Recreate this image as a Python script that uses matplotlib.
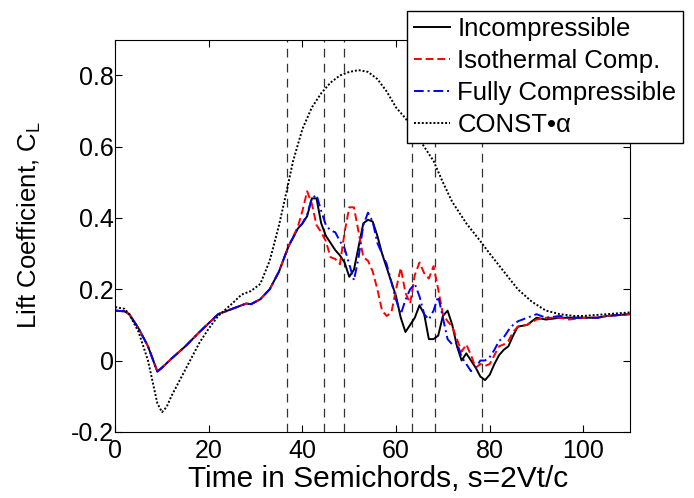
import matplotlib
matplotlib.use('Agg')
import matplotlib.pyplot as plt

plt.rcParams['font.family'] = ['Liberation Sans', 'DejaVu Sans']

# Time in semichords (common grid for the three simulations)
s = [0, 2, 3, 5, 7, 9, 10, 12, 15, 18, 20, 22, 25, 28, 29, 30, 31, 33, 35, 37,
     39, 40, 41, 42, 43, 44, 45, 46, 47, 48, 49, 50, 51, 52, 53, 54, 55, 56, 57,
     58, 59, 60, 61, 62, 63, 64, 65, 66, 67, 68, 69, 70, 71, 72, 73, 74, 75, 76,
     77, 78, 79, 80, 81, 82, 83, 84, 85, 86, 88, 90, 92, 95, 97, 100, 103, 105, 110]

# common start (0..37)
cl_start = [0.14, 0.138, 0.13, 0.09, 0.04, -0.031, -0.02, 0.005, 0.04, 0.08, 0.105,
            0.13, 0.145, 0.16, 0.158, 0.165, 0.172, 0.2, 0.25, 0.32]

cl_incomp = cl_start + [
    0.37, 0.385, 0.405, 0.455, 0.455, 0.385, 0.35, 0.33, 0.31, 0.295, 0.275, 0.235,
    0.255, 0.32, 0.385, 0.395, 0.39, 0.35, 0.3, 0.26, 0.22, 0.18, 0.12, 0.08, 0.1,
    0.12, 0.155, 0.13, 0.06, 0.06, 0.07, 0.125, 0.14, 0.1, 0.04, 0.0, 0.02, 0.0,
    -0.02, -0.045, -0.055, -0.04, -0.01, 0.015, 0.03, 0.04, 0.07, 0.095, 0.1, 0.12,
    0.115, 0.12, 0.12, 0.12, 0.12, 0.125, 0.13]

cl_isoth = cl_start + [
    0.375, 0.42, 0.475, 0.44, 0.38, 0.36, 0.335, 0.29, 0.285, 0.27, 0.36, 0.43,
    0.43, 0.36, 0.29, 0.28, 0.25, 0.2, 0.14, 0.125, 0.135, 0.2, 0.26, 0.19, 0.16,
    0.24, 0.275, 0.245, 0.23, 0.265, 0.2, 0.13, 0.11, 0.095, 0.06, 0.025, 0.045,
    0.015, -0.02, -0.01, -0.015, -0.01, 0.015, 0.04, 0.045, 0.055, 0.08, 0.095, 0.1,
    0.115, 0.12, 0.12, 0.115, 0.12, 0.12, 0.125, 0.13]

cl_fully = cl_start + [
    0.37, 0.385, 0.41, 0.455, 0.465, 0.42, 0.38, 0.365, 0.36, 0.335, 0.315, 0.27,
    0.225, 0.29, 0.38, 0.415, 0.39, 0.33, 0.3, 0.27, 0.22, 0.17, 0.13, 0.17, 0.2,
    0.215, 0.18, 0.13, 0.115, 0.14, 0.18, 0.12, 0.06, 0.045, 0.05, 0.01, -0.01,
    -0.03, -0.02, 0.0, 0.0, 0.01, 0.03, 0.055, 0.065, 0.085, 0.1, 0.11, 0.12, 0.13,
    0.12, 0.125, 0.12, 0.12, 0.12, 0.125, 0.13]

# quasi-steady CONST*alpha
s_const = [0, 2, 3, 5, 7, 8, 9, 10, 11, 12, 14, 16, 18, 20, 22, 25, 27, 29, 31, 33,
           35, 36.7, 38, 40, 42, 44, 46, 48, 50, 52, 54, 56, 58, 60, 62, 65, 68, 70,
           72, 75, 78, 80, 83, 86, 89, 92, 95, 98, 100, 105, 110]
cl_const = [0.15, 0.145, 0.13, 0.08, 0.0, -0.06, -0.12, -0.145, -0.13, -0.1, -0.05,
            0.0, 0.05, 0.09, 0.125, 0.16, 0.185, 0.195, 0.215, 0.28, 0.38, 0.48,
            0.56, 0.65, 0.71, 0.75, 0.78, 0.8, 0.81, 0.815, 0.81, 0.79, 0.755, 0.71,
            0.68, 0.62, 0.56, 0.5, 0.445, 0.385, 0.335, 0.3, 0.25, 0.2, 0.165, 0.14,
            0.13, 0.125, 0.125, 0.13, 0.135]

# instants marked by dashed vertical lines
s_marks = [36.7, 44.6, 48.8, 63.5, 68.3, 78.4]

fig = plt.figure(figsize=(6.94, 4.98), dpi=100)
ax = fig.add_axes([0.166, 0.133, 0.742, 0.787])

for xm in s_marks:
    ax.axvline(xm, color='#333333', lw=0.9, ls=(0, (7, 5)), zorder=1)

ax.plot(s, cl_incomp, color='k', lw=1.4, label='Incompressible')
ax.plot(s, cl_isoth, color='r', lw=1.4, ls=(0, (4, 2)), label='Isothermal Comp.')
ax.plot(s, cl_fully, color='b', lw=1.4, ls=(0, (5, 2, 1, 2)), label='Fully Compressible')
ax.plot(s_const, cl_const, color='k', lw=1.4, ls=(0, (1, 1)), label='CONST•α')

ax.set_xlim(0, 110)
ax.set_ylim(-0.2, 0.9)
ax.set_xticks([0, 20, 40, 60, 80, 100])
ax.set_yticks([-0.2, 0, 0.2, 0.4, 0.6, 0.8])
ax.set_yticklabels(['-0.2', '0', '0.2', '0.4', '0.6', '0.8'])
ax.tick_params(direction='in', top=True, right=True, labelsize=18, length=5)
ax.tick_params(axis='x', pad=5)
ax.tick_params(axis='y', pad=1)

ax.set_xlabel('Time in Semichords, s=2Vt/c', fontsize=21.5)
ax.set_ylabel(r'Lift Coefficient, C$_\mathregular{L}$', fontsize=18.5)
ax.xaxis.set_label_coords(0.51, -0.084)
ax.yaxis.set_label_coords(-0.14, 0.528)

leg = ax.legend(loc='upper right', bbox_to_anchor=(683 / 694, 1 - 11 / 498),
                bbox_transform=fig.transFigure, fontsize=18.5, fancybox=False,
                framealpha=1, edgecolor='k', handlelength=1.4, handletextpad=0.3,
                labelspacing=0.3, borderpad=0.25, borderaxespad=0)
leg.get_frame().set_linewidth(1.0)

fig.savefig('out.png', dpi=100)
